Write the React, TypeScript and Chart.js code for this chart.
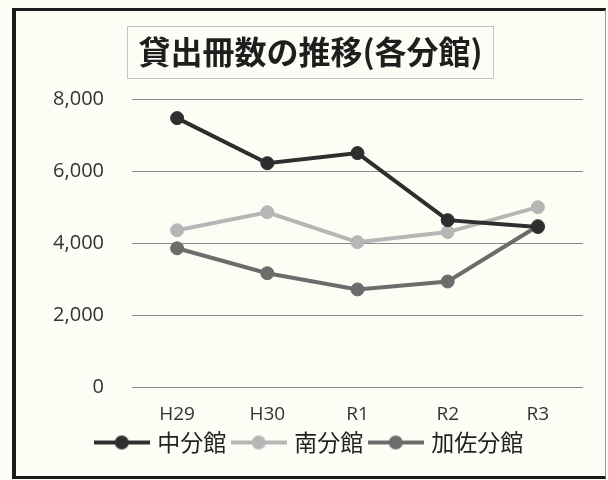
import React, { useEffect, useRef } from "react";
import { Chart, registerables } from "chart.js";

Chart.register(...registerables);

const categories = ["H29", "H30", "R1", "R2", "R3"];
const seriesNames = ["中分館", "南分館", "加佐分館"];
const naka = [7470, 6220, 6500, 4640, 4450];
const minami = [4360, 4860, 4030, 4310, 5000];
const kasa = [3860, 3170, 2720, 2940, 4480];
const seriesColors = ["#2e2e2e", "#b6b6b6", "#6c6c6c"];
const yTicks = [0, 2000, 4000, 6000, 8000];
const titleText = "貸出冊数の推移(各分館)";

const FONT = "'Noto Sans CJK JP', 'Noto Sans', sans-serif";
const TICK_FONT = "'Open Sans', 'Noto Sans', sans-serif";
const TITLE_SIZE = 32;
const TITLE_PAD_TOP = 21.5;

function legendImage(color: string): HTMLCanvasElement {
  const c = document.createElement("canvas");
  c.width = 56;
  c.height = 16;
  const ctx = c.getContext("2d")!;
  ctx.strokeStyle = color;
  ctx.lineWidth = 4;
  ctx.beginPath();
  ctx.moveTo(0, 8);
  ctx.lineTo(56, 8);
  ctx.stroke();
  ctx.fillStyle = color;
  ctx.beginPath();
  ctx.arc(28, 8, 7, 0, Math.PI * 2);
  ctx.fill();
  return c;
}

const titleBoxPlugin = {
  id: "titleBox",
  afterDraw(chart: any) {
    const tb = chart.titleBlock;
    if (!tb) return;
    const ctx = chart.ctx;
    ctx.save();
    ctx.font = `bold ${TITLE_SIZE}px ${FONT}`;
    const w = ctx.measureText(titleText).width;
    const cx = (tb.left + tb.right) / 2;
    const cy = tb.top + TITLE_PAD_TOP + (TITLE_SIZE * 1.2) / 2;
    const bw = w + 22;
    const bh = 52;
    ctx.strokeStyle = "#8a8a8a";
    ctx.lineWidth = 1;
    ctx.setLineDash([1, 1]);
    ctx.strokeRect(Math.round(cx - bw / 2) + 0.5, Math.round(cy - bh / 2) + 0.5, Math.round(bw), bh);
    ctx.restore();
  },
};

export default function App() {
  const ref = useRef<HTMLCanvasElement | null>(null);

  useEffect(() => {
    document.body.style.background = "#fdfdf6";
    const values = [naka, minami, kasa];
    const images = seriesColors.map((c) => legendImage(c));
    const chart = new Chart(ref.current!, {
      type: "line",
      data: {
        labels: categories,
        datasets: seriesNames.map((name, i) => ({
          label: name,
          data: values[i],
          borderColor: seriesColors[i],
          backgroundColor: seriesColors[i],
          pointBackgroundColor: seriesColors[i],
          pointBorderColor: seriesColors[i],
          borderWidth: 4,
          pointRadius: 6.5,
          pointBorderWidth: 1,
          tension: 0,
          fill: false,
        })),
      },
      options: {
        animation: false,
        responsive: true,
        maintainAspectRatio: false,
        layout: { padding: { left: 0, right: 0, top: 0, bottom: 12 } },
        plugins: {
          tooltip: { enabled: false },
          title: {
            display: true,
            text: titleText,
            color: "#1e1e1e",
            font: { family: FONT, size: TITLE_SIZE, weight: "bold" },
            padding: { top: TITLE_PAD_TOP, bottom: 28.1 },
          },
          legend: {
            display: true,
            position: "bottom",
            labels: {
              usePointStyle: true,
              pointStyleWidth: 48,
              padding: 8.5,
              color: "#222",
              font: { family: FONT, size: 23 },
              generateLabels: (ch: any) => {
                const items = Chart.defaults.plugins.legend.labels.generateLabels(ch);
                return items.map((it: any, i: number) => ({ ...it, pointStyle: images[i] }));
              },
            },
          },
        },
        scales: {
          x: {
            offset: true,
            grid: { display: false, drawTicks: false },
            border: { display: false },
            afterFit: (scale: any) => {
              scale.height = 35;
            },
            ticks: {
              color: "#333",
              padding: 16,
              maxRotation: 0,
              font: { family: TICK_FONT, size: 19 },
            },
          },
          y: {
            min: yTicks[0],
            max: yTicks[yTicks.length - 1],
            afterBuildTicks: (scale: any) => {
              scale.ticks = yTicks.map((v) => ({ value: v }));
            },
            afterFit: (scale: any) => {
              scale.width = 116;
            },
            grid: { color: "#8a8a8a", lineWidth: 1, drawTicks: false },
            border: { display: false },
            ticks: {
              color: "#333",
              padding: 28,
              font: { family: TICK_FONT, size: 20 },
              callback: (v: any) => Number(v).toLocaleString("en-US"),
            },
          },
          yRight: {
            position: "right",
            display: true,
            grid: { display: false, drawTicks: false },
            border: { display: false },
            ticks: { display: false },
            afterFit: (scale: any) => {
              scale.width = 22;
            },
          },
        },
      },
      plugins: [titleBoxPlugin],
    });
    return () => chart.destroy();
  }, []);

  return (
    <div
      style={{
        position: "absolute",
        left: 12,
        top: 8,
        width: 594,
        height: 471,
        boxSizing: "border-box",
        borderStyle: "solid",
        borderColor: "#1a1a1a #9a9a9a #1a1a1a #1a1a1a",
        borderWidth: "3px 1px 3px 4px",
        background: "#fdfdf6",
      }}
    >
      <div style={{ position: "relative", width: "100%", height: "100%" }}>
        <canvas ref={ref} />
      </div>
    </div>
  );
}
